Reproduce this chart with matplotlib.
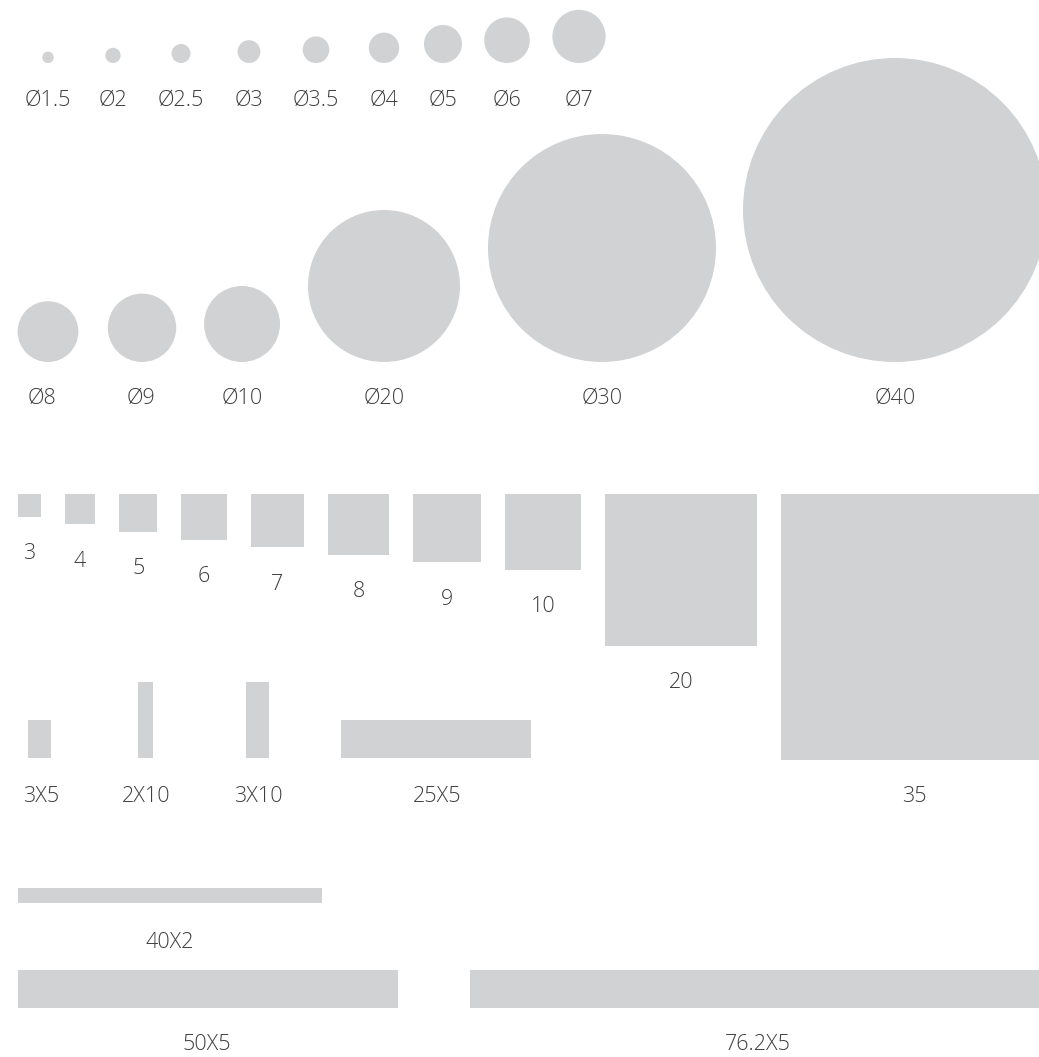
import matplotlib.pyplot as plt
from matplotlib.patches import Circle, Rectangle

# sizes in mm
small_diam = [1.5, 2, 2.5, 3, 3.5, 4, 5, 6, 7]
big_diam = [8, 9, 10, 20, 30, 40]
square_side = [3, 4, 5, 6, 7, 8, 9, 10, 20, 35]
bar_w = [3, 2, 3, 25]
bar_h = [5, 10, 10, 5]
long_w = [40, 50, 76.2]
long_h = [2, 5, 5]

small_labels = ["Ø1.5", "Ø2", "Ø2.5", "Ø3", "Ø3.5", "Ø4", "Ø5", "Ø6", "Ø7"]
big_labels = ["Ø8", "Ø9", "Ø10", "Ø20", "Ø30", "Ø40"]
square_labels = ["3", "4", "5", "6", "7", "8", "9", "10", "20", "35"]
bar_labels = ["3X5", "2X10", "3X10", "25X5"]
long_labels = ["40X2", "50X5", "76.2X5"]

# layout (pixels)
S = 7.6  # px per mm
fill = "#d1d2d4"
tc = "#3e3e3e"
fs = 15.5
font = dict(family="Open Sans", fontweight="light", color=tc, fontsize=fs,
            ha="center", va="center")
dy = 2  # label nudge

small_x = [48, 113, 181, 249, 316, 384, 443, 507, 579]
big_x = [48, 142, 242, 384, 602, 895]
big_lx = [42, 141, 242, 384, 602, 895]
bar_x = [28, 138, 246, 341]
bar_lx = [41, 146, 258, 437]
long_x = [18, 18, 470]
long_y = [888, 970, 970]
long_lx = [170, 207, 758]
long_ly = [940, 1043, 1043]

fig = plt.figure(figsize=(10.39, 10.57), dpi=100)
ax = fig.add_axes([0, 0, 1, 1])
ax.set_xlim(0, 1039)
ax.set_ylim(1057, 0)
ax.axis("off")

# row 1: small circles, bottom aligned
for d, x, lab in zip(small_diam, small_x, small_labels):
    r = d * S / 2
    ax.add_patch(Circle((x, 63 - r), r, color=fill, lw=0))
    ax.text(x, 98 + dy, lab, **font)

# row 2: big circles
for d, x, lx, lab in zip(big_diam, big_x, big_lx, big_labels):
    r = d * S / 2
    ax.add_patch(Circle((x, 362 - r), r, color=fill, lw=0))
    ax.text(lx, 396 + dy, lab, **font)

# squares, top aligned
x = 18
for s, lab in zip(square_side, square_labels):
    w = s * S
    ax.add_patch(Rectangle((x, 494), w, w, color=fill, lw=0))
    ax.text(x + w / 2, 494 + w + 35 + dy, lab, **font)
    x += w + 24

# small bars, bottom aligned
for w, h, x, lx, lab in zip(bar_w, bar_h, bar_x, bar_lx, bar_labels):
    ax.add_patch(Rectangle((x, 758 - h * S), w * S, h * S, color=fill, lw=0))
    ax.text(lx, 795 + dy, lab, **font)

# long bars
for w, h, x, y, lx, ly, lab in zip(long_w, long_h, long_x, long_y, long_lx, long_ly, long_labels):
    ax.add_patch(Rectangle((x, y), w * S, h * S, color=fill, lw=0))
    ax.text(lx, ly + dy, lab, **font)

fig.savefig("out.png", dpi=100, facecolor="white")
